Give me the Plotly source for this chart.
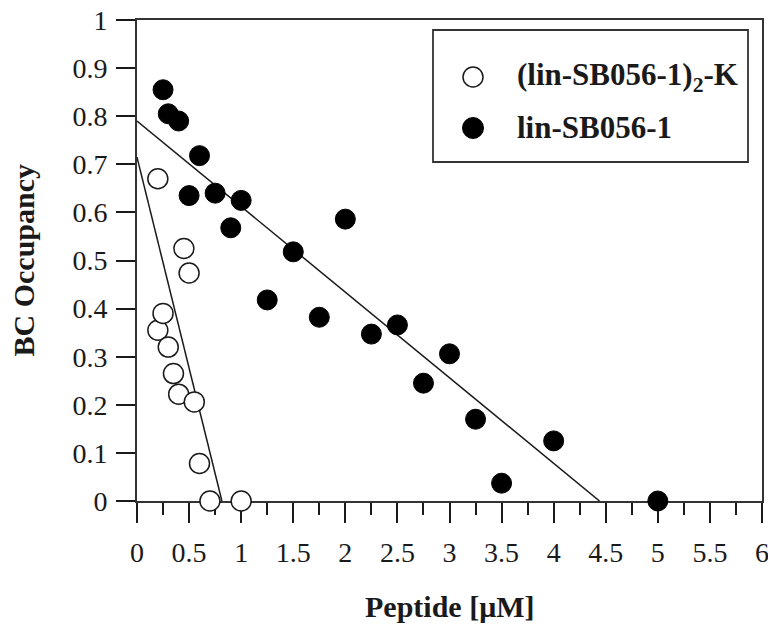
import plotly.graph_objects as go

# lin-SB056-1 (filled circles)
lin_x = [0.25, 0.3, 0.4, 0.5, 0.6, 0.75, 0.9, 1.0, 1.25, 1.5, 1.75, 2.0, 2.25, 2.5, 2.75, 3.0, 3.25, 3.5, 4.0, 5.0]
lin_y = [0.855, 0.805, 0.79, 0.635, 0.718, 0.64, 0.568, 0.625, 0.418, 0.518, 0.382, 0.586, 0.347, 0.366, 0.245, 0.306, 0.17, 0.037, 0.125, 0.0]

# (lin-SB056-1)2-K (open circles)
dim_x = [0.2, 0.2, 0.25, 0.3, 0.35, 0.4, 0.45, 0.5, 0.55, 0.6, 0.7, 1.0]
dim_y = [0.67, 0.355, 0.39, 0.32, 0.265, 0.222, 0.525, 0.474, 0.206, 0.078, 0.0, 0.0]

# fitted lines (endpoints: y-intercept and x-intercept)
lin_fit_x = [0.0, 4.44]
lin_fit_y = [0.79, 0.0]
dim_fit_x = [0.0, 0.815]
dim_fit_y = [0.715, 0.0]

x_ticks = [0, 0.5, 1, 1.5, 2, 2.5, 3, 3.5, 4, 4.5, 5, 5.5, 6]
y_ticks = [0, 0.1, 0.2, 0.3, 0.4, 0.5, 0.6, 0.7, 0.8, 0.9, 1]

series_names = ["<b>(lin-SB056-1)<sub>2</sub>-K</b>", "<b>lin-SB056-1</b>"]

FONT = "Liberation Serif"
INK = "#1a1a1a"

fig = go.Figure()
fig.add_trace(go.Scatter(x=lin_fit_x, y=lin_fit_y, mode="lines",
                         line=dict(color=INK, width=1.5), showlegend=False, hoverinfo="skip"))
fig.add_trace(go.Scatter(x=dim_fit_x, y=dim_fit_y, mode="lines",
                         line=dict(color=INK, width=1.5), showlegend=False, hoverinfo="skip"))
fig.add_trace(go.Scatter(x=dim_x, y=dim_y, mode="markers", cliponaxis=False,
                         name=series_names[0], showlegend=False,
                         marker=dict(size=20, color="white", line=dict(color=INK, width=1.5))))
fig.add_trace(go.Scatter(x=lin_x, y=lin_y, mode="markers", cliponaxis=False,
                         name=series_names[1], showlegend=False,
                         marker=dict(size=20, color="black", line=dict(color="black", width=1))))

# legend box drawn as shapes + annotations (paper coordinates)
leg_left, leg_right, leg_top, leg_bottom = 0.4736, 0.9776, 0.9792, 0.7048
sym_x = 0.5376
txt_x = 0.6048
row_y = [0.8815, 0.7755]
shapes = [dict(type="rect", xref="paper", yref="paper", x0=leg_left, x1=leg_right,
               y0=leg_bottom, y1=leg_top, line=dict(color="#333", width=1.8),
               fillcolor="white", layer="above")]
shapes.append(dict(type="circle", xref="paper", yref="paper", xsizemode="pixel", ysizemode="pixel",
                   xanchor=sym_x, yanchor=row_y[0], x0=-10, x1=10, y0=-10, y1=10,
                   fillcolor="white", line=dict(color=INK, width=1.5), layer="above"))
shapes.append(dict(type="circle", xref="paper", yref="paper", xsizemode="pixel", ysizemode="pixel",
                   xanchor=sym_x, yanchor=row_y[1], x0=-10.5, x1=10.5, y0=-10.5, y1=10.5,
                   fillcolor="black", line=dict(color="black", width=1), layer="above"))

annotations = [
    dict(text="<b>BC Occupancy</b>", xref="paper", yref="paper", x=0, y=0.5,
         xshift=-114, textangle=-90, showarrow=False,
         font=dict(family=FONT, size=30, color=INK), xanchor="center", yanchor="middle"),
    dict(text="<b>Peptide [μM]</b>", xref="paper", yref="paper", x=0.5, y=0,
         yshift=-105, showarrow=False,
         font=dict(family=FONT, size=30, color=INK), xanchor="center", yanchor="middle"),
]
for name, ry in zip(series_names, row_y):
    annotations.append(dict(text=name, xref="paper", yref="paper", x=txt_x, y=ry,
                            xanchor="left", yanchor="middle", showarrow=False,
                            font=dict(family=FONT, size=31, color=INK)))

fig.update_layout(
    width=768, height=623,
    margin=dict(l=129, r=14, t=12, b=130, autoexpand=False),
    paper_bgcolor="white", plot_bgcolor="white",
    font=dict(family=FONT, size=28, color=INK),
    showlegend=False,
    shapes=shapes,
    annotations=annotations,
)

fig.update_xaxes(range=[0, 6], tickvals=x_ticks, ticktext=[f"{v:g}" for v in x_ticks],
                 showgrid=False, zeroline=False, automargin=False,
                 showline=True, linecolor="#333", linewidth=2, mirror=True,
                 ticks="outside", ticklen=20, tickwidth=1.5, tickcolor=INK,
                 ticklabelstandoff=5, layer="below traces", ticklabeloverflow="allow",
                 minor=dict(dtick=0.25, tick0=0, ticks="outside", ticklen=12,
                            tickwidth=1.5, tickcolor=INK, showgrid=False),
                 tickfont=dict(family=FONT, size=28, color=INK))
fig.update_yaxes(range=[0, 1], tickvals=y_ticks, ticktext=[f"{v:g}" for v in y_ticks],
                 showgrid=False, zeroline=False, automargin=False,
                 showline=True, linecolor="#333", linewidth=2, mirror=True,
                 ticks="outside", ticklen=19, tickwidth=1.5, tickcolor=INK,
                 ticklabelstandoff=3, layer="below traces", ticklabeloverflow="allow",
                 tickfont=dict(family=FONT, size=28, color=INK))

fig.write_html("out.html")
